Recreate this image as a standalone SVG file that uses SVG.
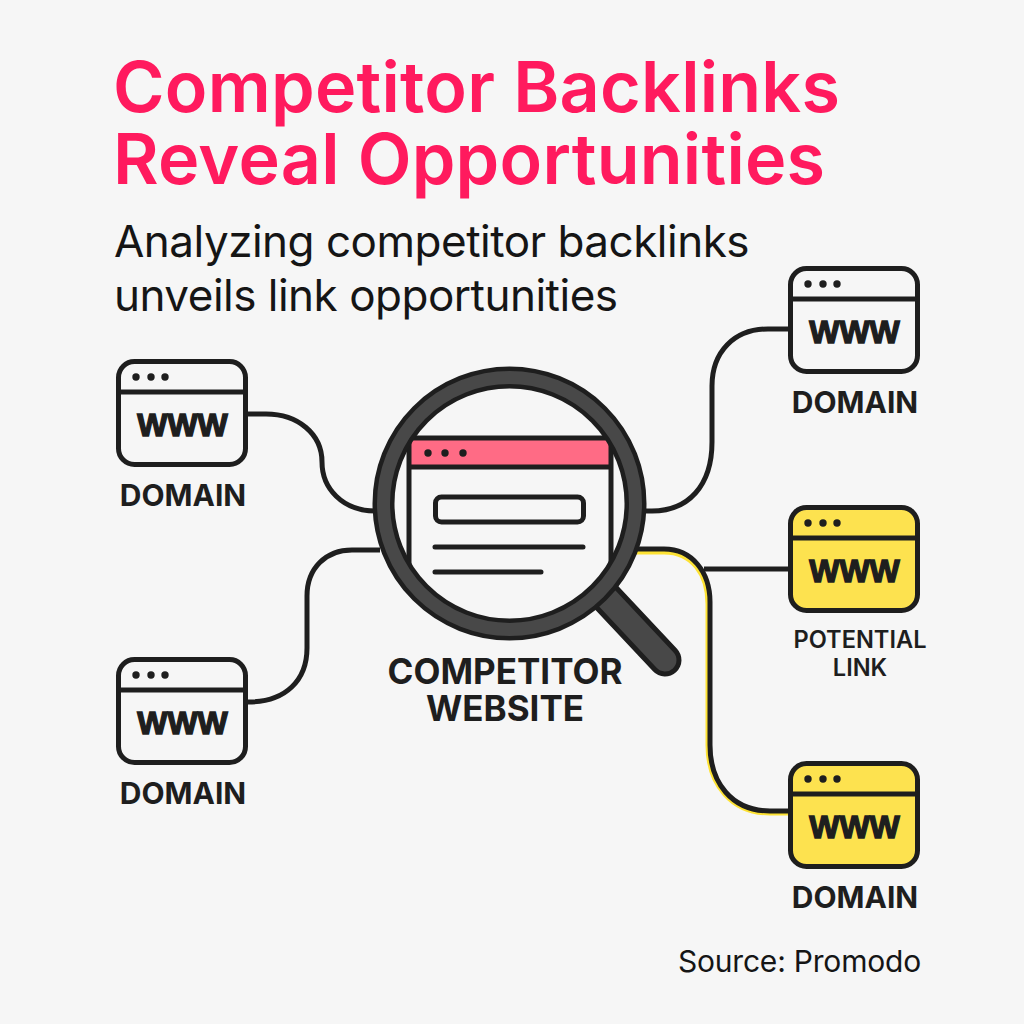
<svg xmlns="http://www.w3.org/2000/svg" width="1024" height="1024" viewBox="0 0 1024 1024">
<style>
text{font-family:"Inter","Liberation Sans",sans-serif}
.title{font-size:70px;font-weight:600;fill:#ff1a5e;letter-spacing:.25px}
.sub{font-size:44px;font-weight:400;fill:#151515;letter-spacing:-.5px}
.lab{font-size:30px;font-weight:700;fill:#1e1e1e;text-anchor:middle}
.lab2{font-size:23.600px;font-weight:600;fill:#1e1e1e;text-anchor:middle}
.big{font-size:35px;font-weight:700;fill:#1e1e1e;text-anchor:middle}
.www{font-family:"Liberation Sans",sans-serif;font-size:32px;font-weight:700;fill:#1e1e1e;stroke:#1e1e1e;stroke-width:1.400;text-anchor:middle}
.box{fill:#f6f6f6;stroke:#1e1e1e;stroke-width:5}
.y{fill:#fde24f}
.div{stroke:#1e1e1e;stroke-width:5;fill:none}
.dot{fill:#1e1e1e}
.c{fill:none;stroke:#1e1e1e;stroke-width:5}
.cy{fill:none;stroke:#fde234;stroke-width:5}
.l{fill:none;stroke:#1e1e1e;stroke-width:5;stroke-linecap:round}
</style>
<defs>
<clipPath id="lens"><circle cx="509.5" cy="503.5" r="118"/></clipPath>
<g id="dots"><circle cx="20" cy="18" r="3.700" class="dot"/><circle cx="35" cy="18" r="3.700" class="dot"/><circle cx="49" cy="18" r="3.700" class="dot"/></g>
</defs>
<rect width="1024" height="1024" fill="#f6f6f6"/>
<text class="title" x="113" y="112">Competitor Backlinks</text>
<text class="title" x="113" y="184">Reveal Opportunities</text>
<text class="sub" x="114" y="257">Analyzing competitor backlinks</text>
<text class="sub" x="114" y="311">unveils link opportunities</text>
<g id="connectors">
<path class="cy" d="M636 552H664C692 552 708 574 708 604V745C708 785 732 813 770 813H790"/>
<path class="c" d="M247 414H266C298 414 322 434 322 462C322 488 342 511 376 511"/>
<path class="c" d="M380 550H352C326 550 307 568 307 596V648C307 680 286 702 248 702"/>
<path class="c" d="M644 511H652C688 511 712 486 712 442V386C712 352 734 329 768 329H790"/>
<path class="c" d="M704 569H790"/>
<path class="c" d="M636 549H664C692 549 710 572 710 602V745C710 783 732 811 770 811H790"/>
</g>
<g id="node-domain-1" transform="translate(116 359)">
<rect class="box" x="2.500" y="2.500" width="127" height="103" rx="16"/><path class="div" d="M2.500 33H129.500"/><use href="#dots"/>
<text class="www" x="66.500" y="77">WWW</text>
<text class="lab" x="67" y="147">DOMAIN</text>
</g>
<g id="node-domain-2" transform="translate(116 657)">
<rect class="box" x="2.500" y="2.500" width="127" height="103" rx="16"/><path class="div" d="M2.500 33H129.500"/><use href="#dots"/>
<text class="www" x="66.500" y="77">WWW</text>
<text class="lab" x="67" y="147">DOMAIN</text>
</g>
<g id="node-domain-3" transform="translate(788 266)">
<rect class="box" x="2.500" y="2.500" width="127" height="103" rx="16"/><path class="div" d="M2.500 33H129.500"/><use href="#dots"/>
<text class="www" x="66.500" y="77">WWW</text>
<text class="lab" x="67" y="147">DOMAIN</text>
</g>
<g id="node-potential" transform="translate(788 505)">
<rect class="box y" x="2.500" y="2.500" width="127" height="103" rx="16"/><path class="div" d="M2.500 33H129.500"/><use href="#dots"/>
<text class="www" x="66.500" y="77">WWW</text>
<text class="lab2" x="72" y="143">POTENTIAL</text>
<text class="lab2" x="72" y="171">LINK</text>
</g>
<g id="node-domain-4" transform="translate(788 761)">
<rect class="box y" x="2.500" y="2.500" width="127" height="103" rx="16"/><path class="div" d="M2.500 33H129.500"/><use href="#dots"/>
<text class="www" x="66.500" y="77">WWW</text>
<text class="lab" x="67" y="147">DOMAIN</text>
</g>
<g id="node-competitor">
<path d="M604 595L665 660" fill="none" stroke="#1e1e1e" stroke-width="33" stroke-linecap="round"/>
<path d="M604 595L665 660" fill="none" stroke="#484848" stroke-width="23" stroke-linecap="round"/>
<circle cx="509.500" cy="503.500" r="118" fill="#f6f6f6"/>
<g clip-path="url(#lens)">
<rect x="409" y="438" width="202" height="28" fill="#ff6b85"/>
<path class="div" d="M409 650V438H611V650M409 467H611"/>
<circle cx="428" cy="453" r="3.700" class="dot"/><circle cx="445" cy="453" r="3.700" class="dot"/><circle cx="463" cy="453" r="3.700" class="dot"/>
</g>
<rect x="435.500" y="497" width="148" height="25" rx="6" fill="#f6f6f6" stroke="#1e1e1e" stroke-width="5"/>
<path class="l" d="M435 547H583M435 572H541"/>
<circle cx="509.500" cy="503.500" r="126" fill="none" stroke="#1e1e1e" stroke-width="22"/>
<circle cx="509.500" cy="503.500" r="126" fill="none" stroke="#484848" stroke-width="13"/>
<text class="big" x="505" y="684">COMPETITOR</text>
<text class="big" x="505" y="721">WEBSITE</text>
</g>
<text x="921" y="972" font-size="30" letter-spacing="-.2" fill="#151515" text-anchor="end">Source: Promodo</text>
</svg>
